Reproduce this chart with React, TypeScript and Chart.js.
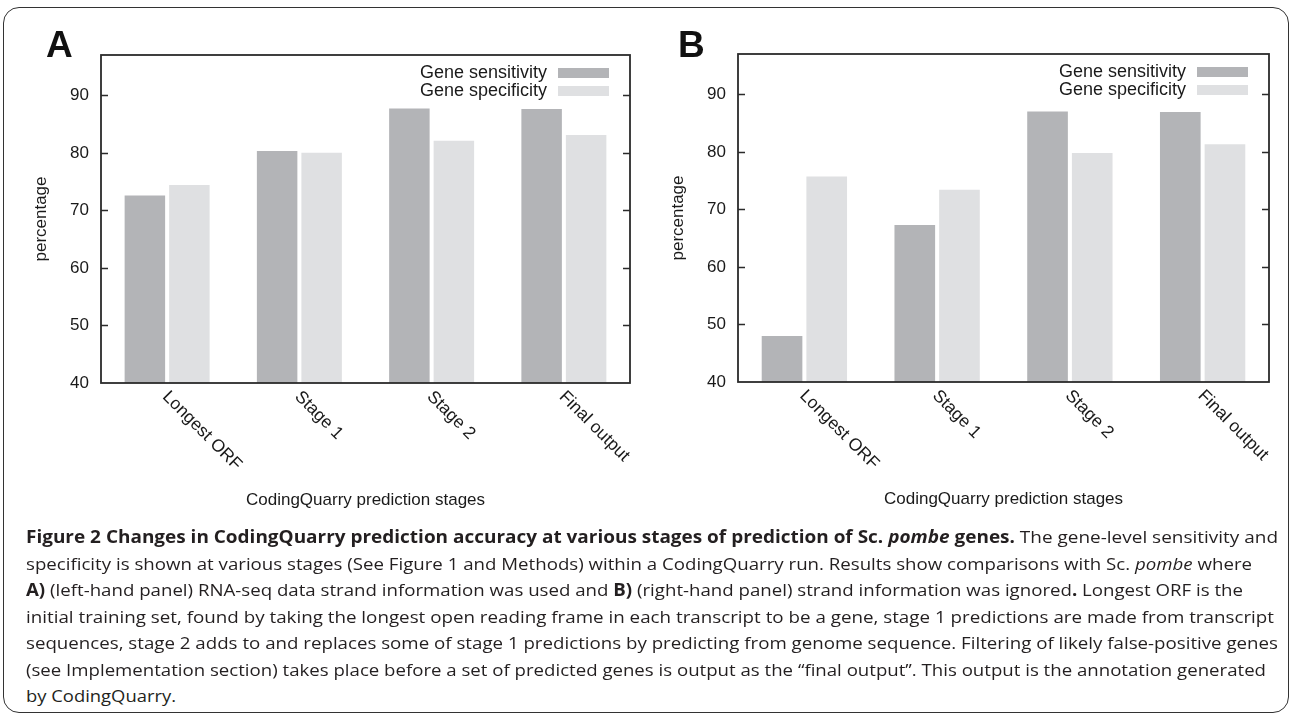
import React, { useEffect, useLayoutEffect, useRef } from "react";
import { Chart, registerables } from "chart.js";

Chart.register(...registerables);

// ---------- data ----------
const categories = ["Longest ORF", "Stage 1", "Stage 2", "Final output"];
const seriesNames = ["Gene sensitivity", "Gene specificity"];
const panelASensitivity = [72.6, 80.3, 87.7, 87.6];
const panelASpecificity = [74.4, 80.0, 82.1, 83.1];
const panelBSensitivity = [48.0, 67.3, 87.0, 86.9];
const panelBSpecificity = [75.7, 73.4, 79.8, 81.3];
const yTickValues = [40, 50, 60, 70, 80, 90];
const yMin = 40;
const yMax = 97;
const xTitle = "CodingQuarry prediction stages";
const yTitle = "percentage";

// ---------- styles / layout ----------
const W = 1292;
const H = 520;
const FONT = '"Liberation Sans", Arial, Helvetica, sans-serif';
const TEXT = "#1a1a1a";
const sensColor = "#b3b4b7";
const specColor = "#dfe0e2";

type PanelLayout = {
  letter: string;
  letterX: number;
  left: number;
  right: number;
  top: number;
  bottom: number;
};

const panelA: PanelLayout = { letter: "A", letterX: 46, left: 101, right: 630, top: 55, bottom: 383 };
const panelB: PanelLayout = { letter: "B", letterX: 678, left: 738, right: 1269, top: 54, bottom: 382 };

const figurePlugin = {
  id: "figure",
  afterDatasetsDraw(chart: any, _args: any, opts: any) {
    const ctx: CanvasRenderingContext2D = chart.ctx;
    const a = chart.chartArea;
    ctx.save();
    // frame
    ctx.strokeStyle = "#2b2b2b";
    ctx.lineWidth = 1.8;
    ctx.strokeRect(a.left, a.top, a.right - a.left, a.bottom - a.top);
    // inward tick marks on both vertical sides
    const ys = chart.scales.y;
    ctx.lineWidth = 1.3;
    ys.ticks.forEach((t: any) => {
      if (t.value === yMin) return;
      const py = Math.round(ys.getPixelForValue(t.value)) + 0.5;
      ctx.beginPath();
      ctx.moveTo(a.left, py);
      ctx.lineTo(a.left + 7, py);
      ctx.moveTo(a.right - 7, py);
      ctx.lineTo(a.right, py);
      ctx.stroke();
    });
    // rotated category labels
    const xs = chart.scales.x;
    ctx.fillStyle = TEXT;
    ctx.font = `17.5px ${FONT}`;
    ctx.textAlign = "left";
    ctx.textBaseline = "middle";
    (chart.data.labels as string[]).forEach((lab, i) => {
      const px = xs.getPixelForTick(i);
      ctx.save();
      ctx.translate(px - 2, a.bottom + 11);
      ctx.rotate(Math.PI / 4);
      ctx.fillText(lab, 0, 0);
      ctx.restore();
    });
    // legend (gnuplot style: text then swatch, top right inside)
    const sw = 51;
    const sh = 10;
    chart.data.datasets.forEach((ds: any, i: number) => {
      const cy = a.top + 18 + i * 18;
      const sx = a.right - 21 - sw;
      ctx.fillStyle = ds.backgroundColor;
      ctx.fillRect(sx, cy - sh / 2, sw, sh);
      ctx.fillStyle = TEXT;
      ctx.textAlign = "right";
      ctx.textBaseline = "middle";
      ctx.font = `18px ${FONT}`;
      ctx.fillText(ds.label, sx - 11, cy);
    });
    // panel letter
    ctx.fillStyle = "#111";
    ctx.font = `bold 37px ${FONT}`;
    ctx.textAlign = "left";
    ctx.textBaseline = "alphabetic";
    ctx.fillText(opts.letter, opts.letterX, 57);
    ctx.restore();
  },
};

function Panel({ layout, sens, spec }: { layout: PanelLayout; sens: number[]; spec: number[] }) {
  const ref = useRef<HTMLCanvasElement | null>(null);
  useEffect(() => {
    if (!ref.current) return;
    const yAxisWidth = 101;
    const xAxisHeight = H - layout.bottom;
    const titleCenterFromPlotBottom = 117;
    const chart = new Chart(ref.current, {
      type: "bar",
      data: {
        labels: categories,
        datasets: [
          {
            label: seriesNames[0],
            data: sens,
            backgroundColor: sensColor,
            borderWidth: 0,
            categoryPercentage: 0.673,
            barPercentage: 0.91,
          },
          {
            label: seriesNames[1],
            data: spec,
            backgroundColor: specColor,
            borderWidth: 0,
            categoryPercentage: 0.673,
            barPercentage: 0.91,
          },
        ],
      },
      plugins: [figurePlugin as any],
      options: {
        animation: false,
        responsive: false,
        maintainAspectRatio: false,
        events: [],
        layout: {
          padding: { left: layout.left - yAxisWidth, right: W - layout.right, top: layout.top, bottom: 0 },
        },
        plugins: {
          legend: { display: false },
          tooltip: { enabled: false },
          figure: { letter: layout.letter, letterX: layout.letterX },
        } as any,
        scales: {
          x: {
            grid: { display: false, drawTicks: false },
            border: { display: false },
            ticks: { display: false },
            title: {
              display: true,
              text: xTitle,
              color: TEXT,
              font: { family: FONT, size: 17 },
              padding: { top: 0, bottom: H - (layout.bottom + titleCenterFromPlotBottom) - 10.2 },
            },
            afterFit: (s: any) => {
              s.height = xAxisHeight;
            },
          },
          y: {
            min: yMin,
            max: yMax,
            afterBuildTicks: (s: any) => {
              s.ticks = yTickValues.map((v) => ({ value: v }));
            },
            grid: { display: false, drawTicks: false },
            border: { display: false },
            ticks: { color: TEXT, font: { family: FONT, size: 17 }, padding: 12 },
            title: {
              display: true,
              text: yTitle,
              color: TEXT,
              font: { family: FONT, size: 17 },
              padding: { top: 30.8, bottom: 0 },
            },
            afterFit: (s: any) => {
              s.width = yAxisWidth;
            },
          },
        },
      },
    });
    let alive = true;
    if ((document as any).fonts && (document as any).fonts.ready) {
      (document as any).fonts.ready.then(() => {
        if (alive) chart.update();
      });
    }
    return () => {
      alive = false;
      chart.destroy();
    };
  }, [layout, sens, spec]);
  return (
    <canvas
      ref={ref}
      width={W}
      height={H}
      style={{ position: "absolute", left: 0, top: 0, width: W, height: H }}
    />
  );
}

// ---------- caption ----------
type Part = [string, "" | "b" | "i" | "bi"];
const captionLines: Part[][] = [
  [
    ["Figure 2 Changes in CodingQuarry prediction accuracy at various stages of prediction of Sc. ", "b"],
    ["pombe", "bi"],
    [" genes.", "b"],
    [" The gene-level sensitivity and", ""],
  ],
  [
    ["specificity is shown at various stages (See Figure 1 and Methods) within a CodingQuarry run. Results show comparisons with Sc. ", ""],
    ["pombe", "i"],
    [" where", ""],
  ],
  [
    ["A)", "b"],
    [" (left-hand panel) RNA-seq data strand information was used and ", ""],
    ["B)", "b"],
    [" (right-hand panel) strand information was ignored", ""],
    [".", "b"],
    [" Longest ORF is the", ""],
  ],
  [["initial training set, found by taking the longest open reading frame in each transcript to be a gene, stage 1 predictions are made from transcript", ""]],
  [["sequences, stage 2 adds to and replaces some of stage 1 predictions by predicting from genome sequence. Filtering of likely false-positive genes", ""]],
  [["(see Implementation section) takes place before a set of predicted genes is output as the \u201cfinal output\u201d. This output is the annotation generated", ""]],
  [["by CodingQuarry.", ""]],
];
const captionLeft = 26;
const captionLineEnds = [1278, 1252, 1243, 1274, 1278, 1266, 176];
const captionTop = 524;
const captionLineHeight = 26.5;

function Caption() {
  const refs = useRef<(HTMLSpanElement | null)[]>([]);
  useLayoutEffect(() => {
    const fit = () => {
      refs.current.forEach((el, i) => {
        if (!el) return;
        el.style.transform = "none";
        const w = el.getBoundingClientRect().width;
        const target = captionLineEnds[i] - captionLeft;
        if (w > 0) el.style.transform = `scaleX(${target / w})`;
      });
    };
    fit();
    let alive = true;
    if ((document as any).fonts && (document as any).fonts.ready) {
      (document as any).fonts.ready.then(() => {
        if (alive) fit();
      });
    }
    return () => {
      alive = false;
    };
  }, []);
  return (
    <div style={{ position: "absolute", left: captionLeft, top: captionTop }}>
      {captionLines.map((parts, i) => (
        <div key={i} style={{ height: captionLineHeight, lineHeight: `${captionLineHeight}px`, whiteSpace: "nowrap" }}>
          <span
            ref={(el) => {
              refs.current[i] = el;
            }}
            style={{ display: "inline-block", transformOrigin: "0 50%" }}
          >
            {parts.map(([t, s], j) => (
              <span
                key={j}
                style={{
                  fontWeight: s.includes("b") ? 700 : 400,
                  fontStyle: s.includes("i") ? "italic" : "normal",
                }}
              >
                {t}
              </span>
            ))}
          </span>
        </div>
      ))}
    </div>
  );
}

export default function App() {
  return (
    <div
      style={{
        position: "absolute",
        left: 0,
        top: 0,
        width: W,
        height: 715,
        background: "#fff",
        overflow: "hidden",
        fontFamily: '"Open Sans", "Noto Sans", sans-serif',
        fontSize: 17,
        color: "#231f20",
      }}
    >
      <div
        style={{
          position: "absolute",
          left: 3,
          top: 7,
          width: W - 6,
          height: 706,
          boxSizing: "border-box",
          border: "1.5px solid #333",
          borderRadius: 16,
        }}
      />
      <Panel layout={panelA} sens={panelASensitivity} spec={panelASpecificity} />
      <Panel layout={panelB} sens={panelBSensitivity} spec={panelBSpecificity} />
      <Caption />
    </div>
  );
}
